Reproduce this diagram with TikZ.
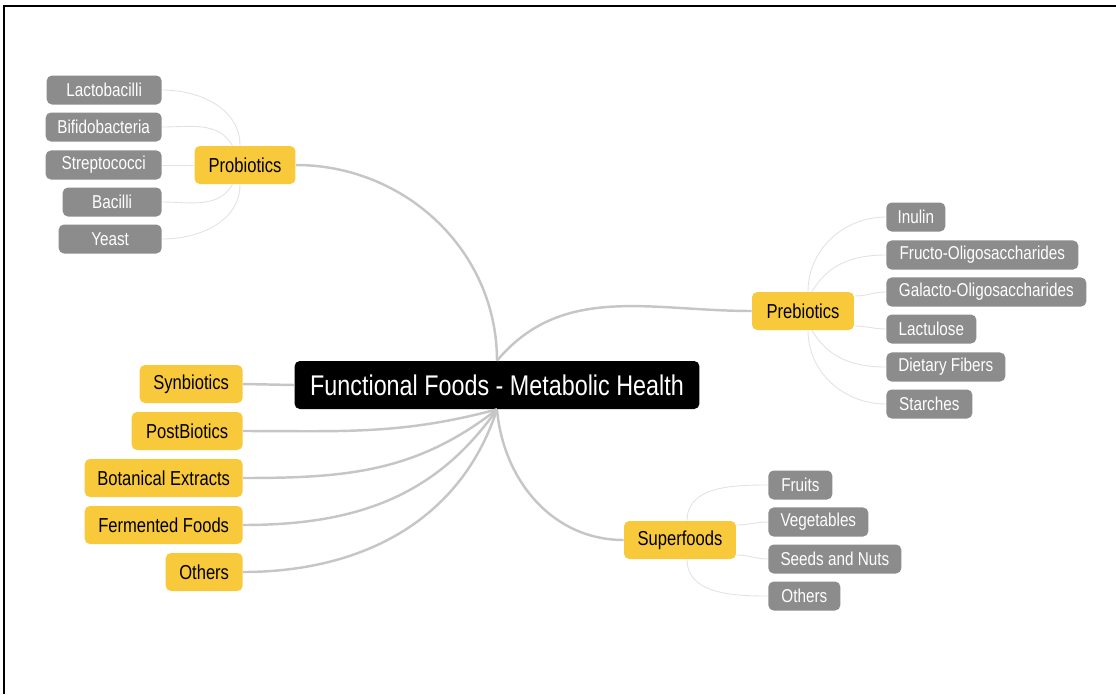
\documentclass[tikz,border=0pt]{standalone}
\usepackage{fontspec}
\setmainfont{Liberation Sans}[FakeStretch=0.82]
\usetikzlibrary{positioning}

\definecolor{hubgray}{HTML}{C6C6C6}
\definecolor{twiggray}{HTML}{E2E2E2}
\definecolor{leafgray}{HTML}{8C8C8C}
\definecolor{topicyellow}{HTML}{F9C93C}

\begin{document}
\begin{tikzpicture}[x=0.02cm,y=-0.02cm,
	rootbox/.style={fill=black, text=white, rounded corners=3pt, minimum height=0.96cm, inner xsep=2pt, font=\fontsize{16.2}{18}\selectfont},
	topic/.style={fill=topicyellow, text=black, rounded corners=3pt, minimum height=0.76cm, inner xsep=2pt, font=\fontsize{11.5}{13}\selectfont},
	leaf/.style={fill=leafgray, text=white, rounded corners=3pt, minimum height=0.58cm, inner xsep=2pt, font=\fontsize{10.6}{12}\selectfont},
	branch/.style={draw=hubgray, line width=1.4pt},
	twig/.style={draw=twiggray, line width=0.5pt}]
	\useasboundingbox (0,0) rectangle (1116,694);
	\draw [line width=1.2pt] (4,694) -- (4,6) -- (1116,6);

	% centre
	\node [rootbox, minimum width=8.1cm] (root) at (497,385) {Functional Foods - Metabolic Health};

	% main topics
	\node [topic, minimum width=2.02cm] (pro) at (245,165) {Probiotics};
	\node [topic, minimum width=2.04cm] (pre) at (803,311) {Prebiotics};
	\node [topic, minimum width=2.24cm] (sup) at (680,540) {Superfoods};
	\node [topic, minimum width=2.06cm, anchor=east] (syn) at (243,384) {Synbiotics};
	\node [topic, minimum width=2.22cm, anchor=east] (pos) at (243,431) {PostBiotics};
	\node [topic, minimum width=3.16cm, anchor=east] (bot) at (243,478) {Botanical Extracts};
	\node [topic, minimum width=3.16cm, anchor=east] (fer) at (243,525) {Fermented Foods};
	\node [topic, minimum width=1.54cm, anchor=east] (oth) at (243,572) {Others};

	% probiotics
	\node [leaf, minimum width=2.3cm, anchor=east] (lac) at (162,90) {Lactobacilli};
	\node [leaf, minimum width=2.32cm, anchor=east] (bif) at (162,127) {Bifidobacteria};
	\node [leaf, minimum width=2.32cm, anchor=east] (str) at (162,165) {Streptococci};
	\node [leaf, minimum width=1.98cm, anchor=east] (bac) at (162,202) {Bacilli};
	\node [leaf, minimum width=2.06cm, anchor=east] (yea) at (162,239) {Yeast};

	% prebiotics
	\node [leaf, minimum width=1.18cm, anchor=west] (inu) at (886,217) {Inulin};
	\node [leaf, minimum width=3.84cm, anchor=west] (fru) at (886,255) {Fructo-Oligosaccharides};
	\node [leaf, minimum width=4.0cm, anchor=west] (gal) at (886,292) {Galacto-Oligosaccharides};
	\node [leaf, minimum width=1.8cm, anchor=west] (lact) at (886,329) {Lactulose};
	\node [leaf, minimum width=2.38cm, anchor=west] (die) at (886,367) {Dietary Fibers};
	\node [leaf, minimum width=1.72cm, anchor=west] (sta) at (886,404) {Starches};

	% superfoods
	\node [leaf, minimum width=1.28cm, anchor=west] (frt) at (768,485) {Fruits};
	\node [leaf, minimum width=2.0cm, anchor=west] (veg) at (768,522) {Vegetables};
	\node [leaf, minimum width=2.66cm, anchor=west] (see) at (768,559) {Seeds and Nuts};
	\node [leaf, minimum width=1.44cm, anchor=west] (oth2) at (768,596) {Others};

	% branches
	\draw [branch] (pro.east) to[out=0,in=90] (root.north);
	\draw [branch] (root.north) to[out=50,in=180] (pre.west);
	\draw [branch] (root.south) to[out=-85,in=180] (sup.west);
	\draw [branch] (syn.east) -- (root.west);
	\draw [branch] (root.south) to[out=195,in=0] (pos.east);
	\draw [branch] (root.south) to[out=218,in=0] (bot.east);
	\draw [branch] (root.south) to[out=235,in=0] (fer.east);
	\draw [branch] (root.south) to[out=252,in=0] (oth.east);

	% twigs
	\draw [twig] (lac.east) to[out=0,in=90] ([xshift=-0.1cm]pro.north);
	\draw [twig] (bif.east) to[out=0,in=120] ([xshift=-0.25cm]pro.north);
	\draw [twig] (str.east) -- (pro.west);
	\draw [twig] (bac.east) to[out=0,in=-120] ([xshift=-0.25cm]pro.south);
	\draw [twig] (yea.east) to[out=0,in=-90] ([xshift=-0.1cm]pro.south);

	\draw [twig] ([xshift=0.1cm]pre.north) to[out=90,in=180] (inu.west);
	\draw [twig] ([xshift=0.18cm]pre.north) to[out=60,in=180] (fru.west);
	\draw [twig] ([yshift=0.3cm]pre.east) to[out=0,in=180] (gal.west);
	\draw [twig] ([yshift=-0.3cm]pre.east) to[out=0,in=180] (lact.west);
	\draw [twig] ([xshift=0.18cm]pre.south) to[out=-60,in=180] (die.west);
	\draw [twig] ([xshift=0.1cm]pre.south) to[out=-90,in=180] (sta.west);

	\draw [twig] ([xshift=0.14cm]sup.north) to[out=90,in=180] (frt.west);
	\draw [twig] ([yshift=0.3cm]sup.east) to[out=0,in=180] (veg.west);
	\draw [twig] ([yshift=-0.3cm]sup.east) to[out=0,in=180] (see.west);
	\draw [twig] ([xshift=0.14cm]sup.south) to[out=-90,in=180] (oth2.west);
\end{tikzpicture}
\end{document}
